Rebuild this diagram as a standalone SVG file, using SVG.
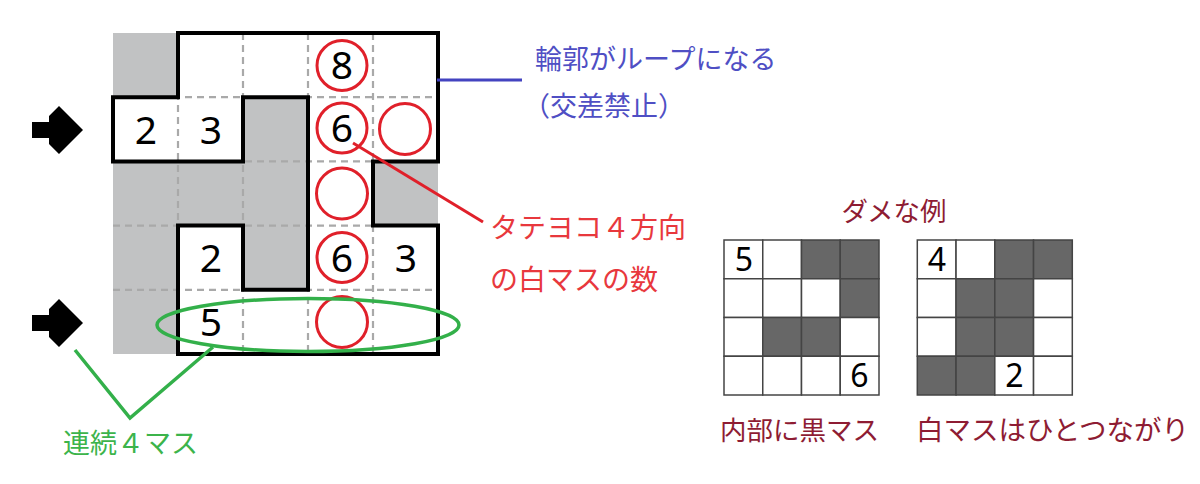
<svg xmlns="http://www.w3.org/2000/svg" width="1200" height="484" viewBox="0 0 1200 484">
<style>
.num{font-family:"Noto Sans","DejaVu Sans",sans-serif;font-size:39px;fill:#000;text-anchor:middle}
.snum{font-family:"Noto Sans","DejaVu Sans",sans-serif;font-size:32px;fill:#000;text-anchor:middle}
.dash{stroke:#a9a9a9;stroke-width:2.2;stroke-dasharray:7 5;fill:none}
.circ{fill:none;stroke:#e0202a;stroke-width:3}
.jp{font-family:"Noto Sans CJK JP","Noto Sans",sans-serif}
.blue{fill:#4f4fc4;font-size:27px}
.red{fill:#e8383d;font-size:28px}
.green{fill:#3cb44b;font-size:27px}
.dred{fill:#8e1c33;font-size:26.5px}
.cell{fill:#fff;stroke:#444;stroke-width:1.5}
.dark{fill:#676767;stroke:#444;stroke-width:1.5}
.arrow{fill:#000}
</style>
<rect width="1200" height="484" fill="#fff"/>

<g id="main-grid">
  <rect x="113" y="33" width="325" height="321" fill="#c1c2c3"/>
  <path d="M178,33 L438,33 L438,161.4 L373,161.4 L373,225.6 L438,225.6 L438,354 L178,354 L178,225.6 L243,225.6 L243,289.8 L308,289.8 L308,97.2 L243,97.2 L243,161.4 L113,161.4 L113,97.2 L178,97.2 Z" fill="#fff"/>
  <g class="dash">
    <line x1="178" y1="33" x2="178" y2="354"/>
    <line x1="243" y1="33" x2="243" y2="354"/>
    <line x1="308" y1="33" x2="308" y2="354"/>
    <line x1="373" y1="33" x2="373" y2="354"/>
    <line x1="113" y1="97.2" x2="438" y2="97.2"/>
    <line x1="113" y1="161.4" x2="438" y2="161.4"/>
    <line x1="113" y1="225.6" x2="438" y2="225.6"/>
    <line x1="113" y1="289.8" x2="438" y2="289.8"/>
  </g>
  <path d="M178,33 L438,33 L438,161.4 L373,161.4 L373,225.6 L438,225.6 L438,354 L178,354 L178,225.6 L243,225.6 L243,289.8 L308,289.8 L308,97.2 L243,97.2 L243,161.4 L113,161.4 L113,97.2 L178,97.2 Z" fill="none" stroke="#000" stroke-width="4" stroke-linejoin="miter"/>
  <g id="circles">
    <circle class="circ" cx="342" cy="65.5" r="25"/>
    <circle class="circ" cx="342" cy="128" r="25"/>
    <circle class="circ" cx="405" cy="129" r="25.5"/>
    <circle class="circ" cx="342" cy="193.5" r="25.5"/>
    <circle class="circ" cx="342" cy="257.5" r="25"/>
    <circle class="circ" cx="342" cy="322" r="25.5"/>
  </g>
  <g id="numbers">
    <text class="num" x="342" y="79">8</text>
    <text class="num" x="146" y="143.5">2</text>
    <text class="num" x="211" y="143.5">3</text>
    <text class="num" x="342" y="142">6</text>
    <text class="num" x="211" y="271.5">2</text>
    <text class="num" x="342" y="271.5">6</text>
    <text class="num" x="406" y="271.5">3</text>
    <text class="num" x="211" y="336">5</text>
  </g>
</g>

<g id="arrows">
  <polygon class="arrow" points="32,122 49,122 49,116 59,106 83,130 59,154 49,144 49,138 32,138"/>
  <polygon class="arrow" points="32,315 49,315 49,309 59,299 83,323 59,347 49,337 49,331 32,331"/>
</g>

<g id="connectors">
  <line x1="437" y1="80" x2="522" y2="80" stroke="#4343c0" stroke-width="3"/>
  <line x1="353" y1="143" x2="483" y2="222" stroke="#e0202a" stroke-width="3"/>
  <ellipse cx="308" cy="325" rx="151" ry="26.5" fill="none" stroke="#33b04a" stroke-width="3.5"/>
  <polyline points="75,350 130,418 213,347" fill="none" stroke="#33b04a" stroke-width="3.5"/>
</g>

<g id="labels">
  <text class="jp blue" x="535" y="69">輪郭がループになる</text>
  <text class="jp blue" x="523" y="116">（交差禁止）</text>
  <text class="jp red" x="490" y="238">タテヨコ４方向</text>
  <text class="jp red" x="490" y="290">の白マスの数</text>
  <text class="jp green" x="63" y="453">連続４マス</text>
  <text class="jp dred" x="894" y="221" text-anchor="middle">ダメな例</text>
  <text class="jp dred" x="720" y="440">内部に黒マス</text>
  <text class="jp dred" x="916" y="440" style="font-size:27.5px">白マスはひとつながり</text>
</g>

<g id="example-1">
  <rect class="cell" x="724" y="240" width="38.75" height="38.75"/>
  <rect class="cell" x="762.75" y="240" width="38.75" height="38.75"/>
  <rect class="dark" x="801.5" y="240" width="38.75" height="38.75"/>
  <rect class="dark" x="840.25" y="240" width="38.75" height="38.75"/>
  <rect class="cell" x="724" y="278.75" width="38.75" height="38.75"/>
  <rect class="cell" x="762.75" y="278.75" width="38.75" height="38.75"/>
  <rect class="cell" x="801.5" y="278.75" width="38.75" height="38.75"/>
  <rect class="dark" x="840.25" y="278.75" width="38.75" height="38.75"/>
  <rect class="cell" x="724" y="317.5" width="38.75" height="38.75"/>
  <rect class="dark" x="762.75" y="317.5" width="38.75" height="38.75"/>
  <rect class="dark" x="801.5" y="317.5" width="38.75" height="38.75"/>
  <rect class="cell" x="840.25" y="317.5" width="38.75" height="38.75"/>
  <rect class="cell" x="724" y="356.25" width="38.75" height="38.75"/>
  <rect class="cell" x="762.75" y="356.25" width="38.75" height="38.75"/>
  <rect class="cell" x="801.5" y="356.25" width="38.75" height="38.75"/>
  <rect class="cell" x="840.25" y="356.25" width="38.75" height="38.75"/>
  <text class="snum" x="744" y="271">5</text>
  <text class="snum" x="859.5" y="387">6</text>
</g>

<g id="example-2">
  <rect class="cell" x="917.3" y="240" width="38.75" height="38.75"/>
  <rect class="cell" x="956.05" y="240" width="38.75" height="38.75"/>
  <rect class="dark" x="994.8" y="240" width="38.75" height="38.75"/>
  <rect class="dark" x="1033.55" y="240" width="38.75" height="38.75"/>
  <rect class="cell" x="917.3" y="278.75" width="38.75" height="38.75"/>
  <rect class="dark" x="956.05" y="278.75" width="38.75" height="38.75"/>
  <rect class="dark" x="994.8" y="278.75" width="38.75" height="38.75"/>
  <rect class="cell" x="1033.55" y="278.75" width="38.75" height="38.75"/>
  <rect class="cell" x="917.3" y="317.5" width="38.75" height="38.75"/>
  <rect class="dark" x="956.05" y="317.5" width="38.75" height="38.75"/>
  <rect class="dark" x="994.8" y="317.5" width="38.75" height="38.75"/>
  <rect class="cell" x="1033.55" y="317.5" width="38.75" height="38.75"/>
  <rect class="dark" x="917.3" y="356.25" width="38.75" height="38.75"/>
  <rect class="dark" x="956.05" y="356.25" width="38.75" height="38.75"/>
  <rect class="cell" x="994.8" y="356.25" width="38.75" height="38.75"/>
  <rect class="cell" x="1033.55" y="356.25" width="38.75" height="38.75"/>
  <text class="snum" x="937" y="271">4</text>
  <text class="snum" x="1014.5" y="387">2</text>
</g>
</svg>
